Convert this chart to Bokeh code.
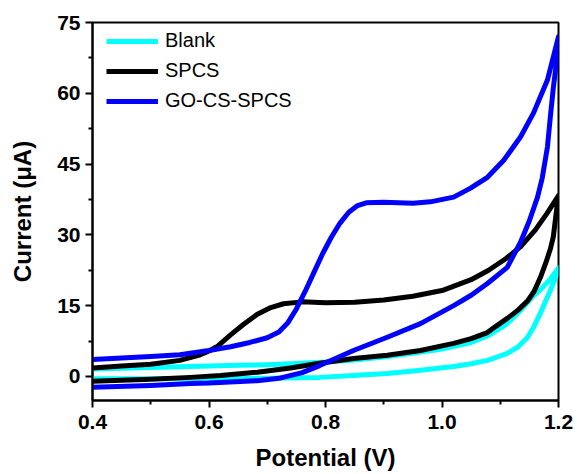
from bokeh.plotting import figure
from bokeh.models import FixedTicker, Range1d, Legend, LegendItem
from bokeh.embed import file_html
from bokeh.resources import INLINE

# ---- data ----
blank_v = [0.40, 0.45, 0.50, 0.55, 0.60, 0.65, 0.70, 0.75, 0.80, 0.85, 0.90, 0.95, 1.00, 1.05, 1.08,
           1.11, 1.135, 1.155, 1.17, 1.185, 1.20,
           1.195, 1.186, 1.178, 1.169, 1.158, 1.147, 1.13, 1.112, 1.09, 1.078, 1.05, 1.02, 0.963,
           0.906, 0.848, 0.79, 0.70, 0.60, 0.50, 0.40]
blank_i = [1.6, 1.75, 1.9, 2.05, 2.2, 2.35, 2.5, 2.75, 3.05, 3.5, 4.1, 4.9, 5.8, 7.2, 8.7,
           11.0, 14.0, 16.8, 18.5, 20.5, 23.0,
           21.0, 18.2, 16.0, 13.4, 10.6, 8.3, 6.2, 4.9, 3.9, 3.4, 2.7, 2.1, 1.3,
           0.6, 0.2, -0.2, -0.4, -0.45, -0.5, -0.5]

spcs_v = [0.40, 0.45, 0.50, 0.55, 0.585, 0.60, 0.615, 0.637, 0.659, 0.683, 0.706, 0.728, 0.76,
          0.80, 0.85, 0.90, 0.95, 1.00, 1.05, 1.08, 1.11, 1.135, 1.16, 1.18, 1.20,
          1.196, 1.191, 1.186, 1.178, 1.169, 1.158, 1.147, 1.13, 1.112, 1.09, 1.078, 1.05, 1.02,
          0.963, 0.906, 0.848, 0.79, 0.74, 0.683, 0.62, 0.568, 0.50, 0.45, 0.40]
spcs_i = [1.8, 2.2, 2.6, 3.4, 4.6, 5.4, 6.4, 8.8, 11.0, 13.2, 14.6, 15.4, 15.8,
          15.6, 15.7, 16.2, 17.0, 18.2, 20.5, 22.5, 25.0, 27.5, 31.0, 34.5, 38.3,
          34.6, 29.5, 27.0, 24.0, 21.0, 18.0, 16.0, 14.0, 12.3, 10.4, 9.3, 8.0, 7.0,
          5.5, 4.5, 3.8, 2.8, 1.8, 0.9, 0.2, -0.2, -0.6, -0.8, -1.0]

go_v = [0.40, 0.45, 0.50, 0.55, 0.60, 0.637, 0.67, 0.70, 0.72, 0.735, 0.75, 0.765, 0.78, 0.795,
        0.81, 0.825, 0.84, 0.855, 0.87, 0.90, 0.95, 0.98, 1.02, 1.049, 1.078, 1.106, 1.135, 1.157,
        1.181, 1.20,
        1.196, 1.191, 1.186, 1.181, 1.172, 1.164, 1.15, 1.135, 1.112, 1.078, 1.05, 1.02, 0.963,
        0.906, 0.848, 0.79, 0.76, 0.72, 0.683, 0.60, 0.568, 0.50, 0.40]
go_i = [3.6, 3.9, 4.2, 4.6, 5.5, 6.3, 7.2, 8.2, 9.4, 11.3, 14.3, 18.0, 22.0, 26.0,
        29.5, 32.5, 34.8, 36.2, 36.8, 36.9, 36.7, 37.0, 38.0, 39.9, 42.2, 45.8, 50.8, 55.8,
        62.8, 72.0,
        66.0, 61.0, 55.0, 48.6, 42.0, 38.0, 33.0, 28.5, 23.1, 19.7, 17.2, 15.0, 11.2,
        8.3, 5.5, 2.3, 0.8, -0.4, -0.9, -1.4, -1.5, -1.9, -2.3]

series_names = ["Blank", "SPCS", "GO-CS-SPCS"]
series_colors = ["#00FFFF", "#000000", "#0000FF"]

x_ticks = [0.4, 0.6, 0.8, 1.0, 1.2]
x_tick_labels = ["0.4", "0.6", "0.8", "1.0", "1.2"]
x_minor = [0.5, 0.7, 0.9, 1.1]
y_ticks = [0, 15, 30, 45, 60, 75]
y_tick_labels = ["0", "15", "30", "45", "60", "75"]
y_minor = [-7.5, 7.5, 22.5, 37.5, 52.5, 67.5]

FONT = "Liberation Sans"

p = figure(width=577, height=474, output_backend="svg", toolbar_location=None,
           x_range=Range1d(0.4, 1.2), y_range=Range1d(-5.1, 75),
           min_border_left=92, min_border_right=19, min_border_top=22, min_border_bottom=74)
p.background_fill_color = "white"
p.border_fill_color = "white"
p.xgrid.visible = False
p.ygrid.visible = False
p.outline_line_color = "black"
p.outline_line_width = 2

items = []
for v, i, name, col in zip([blank_v, spcs_v, go_v], [blank_i, spcs_i, go_i], series_names, series_colors):
    r = p.line(v, i, line_color=col, line_width=5, line_join="round")
    items.append(LegendItem(label=name, renderers=[r]))

for ax, ticks, labels, minor in [(p.xaxis[0], x_ticks, x_tick_labels, x_minor),
                                  (p.yaxis[0], y_ticks, y_tick_labels, y_minor)]:
    ax.ticker = FixedTicker(ticks=ticks, minor_ticks=minor)
    ax.major_label_overrides = {t: l for t, l in zip(ticks, labels)}
    ax.axis_line_width = 2
    ax.major_tick_line_width = 2
    ax.minor_tick_line_width = 2
    ax.major_tick_out = 7
    ax.major_tick_in = 0
    ax.minor_tick_out = 4
    ax.minor_tick_in = 0
    ax.major_label_text_font = FONT
    ax.major_label_text_font_style = "bold"
    ax.major_label_text_font_size = "21px"
    ax.major_label_text_color = "black"
    ax.axis_label_text_font = FONT
    ax.axis_label_text_font_style = "bold"
    ax.axis_label_text_font_size = "24px"
    ax.axis_label_text_color = "black"

p.xaxis.axis_label = "Potential (V)"
p.yaxis.axis_label = "Current (\u03bcA)"
p.xaxis.major_label_standoff = 7
p.xaxis.axis_label_standoff = 12
p.yaxis.major_label_standoff = 5
p.yaxis.axis_label_standoff = 18

legend = Legend(items=items, location=(14, 288), margin=0, padding=0,
                glyph_width=52, glyph_height=20, label_height=20, spacing=7,
                label_standoff=7, label_text_font=FONT, label_text_font_size="20px",
                label_text_color="black",
                background_fill_alpha=0, border_line_alpha=0)
p.add_layout(legend, "center")

open("out.html", "w").write(file_html(p, INLINE))
